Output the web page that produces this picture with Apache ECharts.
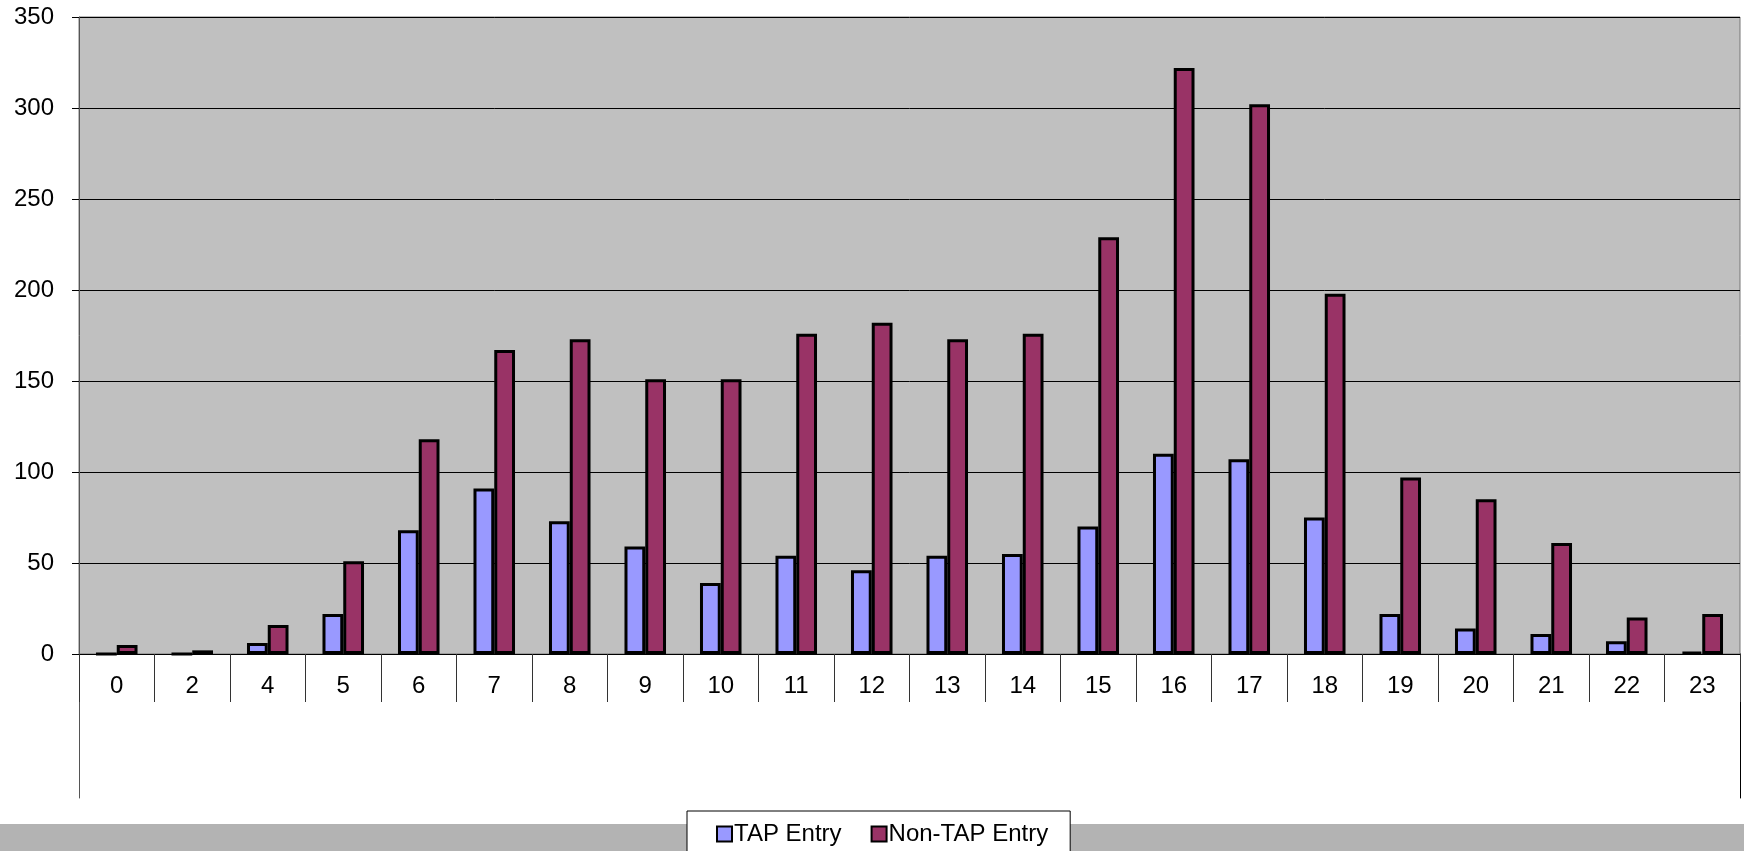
<!DOCTYPE html>
<html>
<head>
<meta charset="utf-8">
<script src="https://cdn.jsdelivr.net/npm/echarts@6/dist/echarts.min.js"></script>
<style>
  html, body { margin: 0; padding: 0; background: #ffffff; }
  #chart { width: 1744px; height: 851px; }
</style>
</head>
<body>
<div id="chart"></div>
<script>
// Hour of day of entry
const hours = ['0', '2', '4', '5', '6', '7', '8', '9', '10', '11', '12', '13', '14', '15', '16', '17', '18', '19', '20', '21', '22', '23'];
// Entries per hour
const tapEntry = [0, 0, 6, 22, 68, 91, 73, 59, 39, 54, 46, 54, 55, 70, 110, 107, 75, 22, 14, 11, 7, 1];
const nonTapEntry = [5, 2, 16, 51, 118, 167, 173, 151, 151, 176, 182, 173, 176, 229, 322, 302, 198, 97, 85, 61, 20, 22];
// Value axis ticks
const yTicks = { min: 0, max: 350, interval: 50 };

const FONT = '"Liberation Sans", Arial, sans-serif';
const chart = echarts.init(document.getElementById('chart'));

chart.setOption({
  animation: false,
  backgroundColor: '#ffffff',
  textStyle: { fontFamily: FONT, color: '#000' },
  grid: [
    { left: 79, right: 4, top: 17, bottom: 197, show: true, backgroundColor: '#c0c0c0', borderColor: '#777', borderWidth: 1 },
    // frame below the category labels
    { left: 79, right: 4, top: 654, bottom: 53, show: false }
  ],
  xAxis: [
    {
      type: 'category', gridIndex: 0, data: hours,
      axisLine: { show: true, lineStyle: { color: '#000', width: 1 } },
      axisTick: { show: true, length: 48, interval: 0, lineStyle: { color: '#333' } },
      axisLabel: { interval: 0, fontSize: 24, color: '#000', margin: 20, fontFamily: FONT }
    },
    { type: 'category', gridIndex: 1, data: hours, show: false }
  ],
  yAxis: [
    {
      type: 'value', gridIndex: 0, min: yTicks.min, max: yTicks.max, interval: yTicks.interval,
      axisLine: { show: true, lineStyle: { color: '#555', width: 1 } },
      axisTick: { show: true, length: 7, lineStyle: { color: '#000' } },
      axisLabel: { fontSize: 24, color: '#000', margin: 25, fontFamily: FONT },
      splitLine: { show: true, lineStyle: { color: '#000', width: 1 } }
    },
    {
      type: 'value', gridIndex: 1, position: 'left',
      axisLine: { show: true, lineStyle: { color: '#555', width: 1 } },
      axisTick: { show: false }, axisLabel: { show: false }, splitLine: { show: false }
    },
    {
      type: 'value', gridIndex: 1, position: 'right',
      axisLine: { show: true, lineStyle: { color: '#000', width: 1 } },
      axisTick: { show: false }, axisLabel: { show: false }, splitLine: { show: false }
    }
  ],
  legend: {
    left: 687, top: 811,
    orient: 'horizontal',
    padding: [11, 22, 30, 29],
    itemWidth: 15, itemHeight: 15, itemGap: 29,
    backgroundColor: '#ffffff', borderColor: '#000', borderWidth: 1,
    textStyle: { fontSize: 24, color: '#000', fontFamily: FONT, padding: [0, 0, 0, -3] },
    icon: 'rect',
    z: 5,
    data: ['TAP Entry', 'Non-TAP Entry']
  },
  graphic: [
    { type: 'rect', left: 0, top: 824, z: 1, shape: { width: 1744, height: 27 }, style: { fill: '#b3b3b3' } }
  ],
  series: [
    {
      name: 'TAP Entry', type: 'bar', data: tapEntry,
      barGap: '0%', barCategoryGap: '45%',
      itemStyle: { color: '#9999ff', borderColor: '#000', borderWidth: 3 }
    },
    {
      name: 'Non-TAP Entry', type: 'bar', data: nonTapEntry,
      barGap: '0%', barCategoryGap: '45%',
      itemStyle: { color: '#993366', borderColor: '#000', borderWidth: 3 }
    }
  ]
});
</script>
</body>
</html>
